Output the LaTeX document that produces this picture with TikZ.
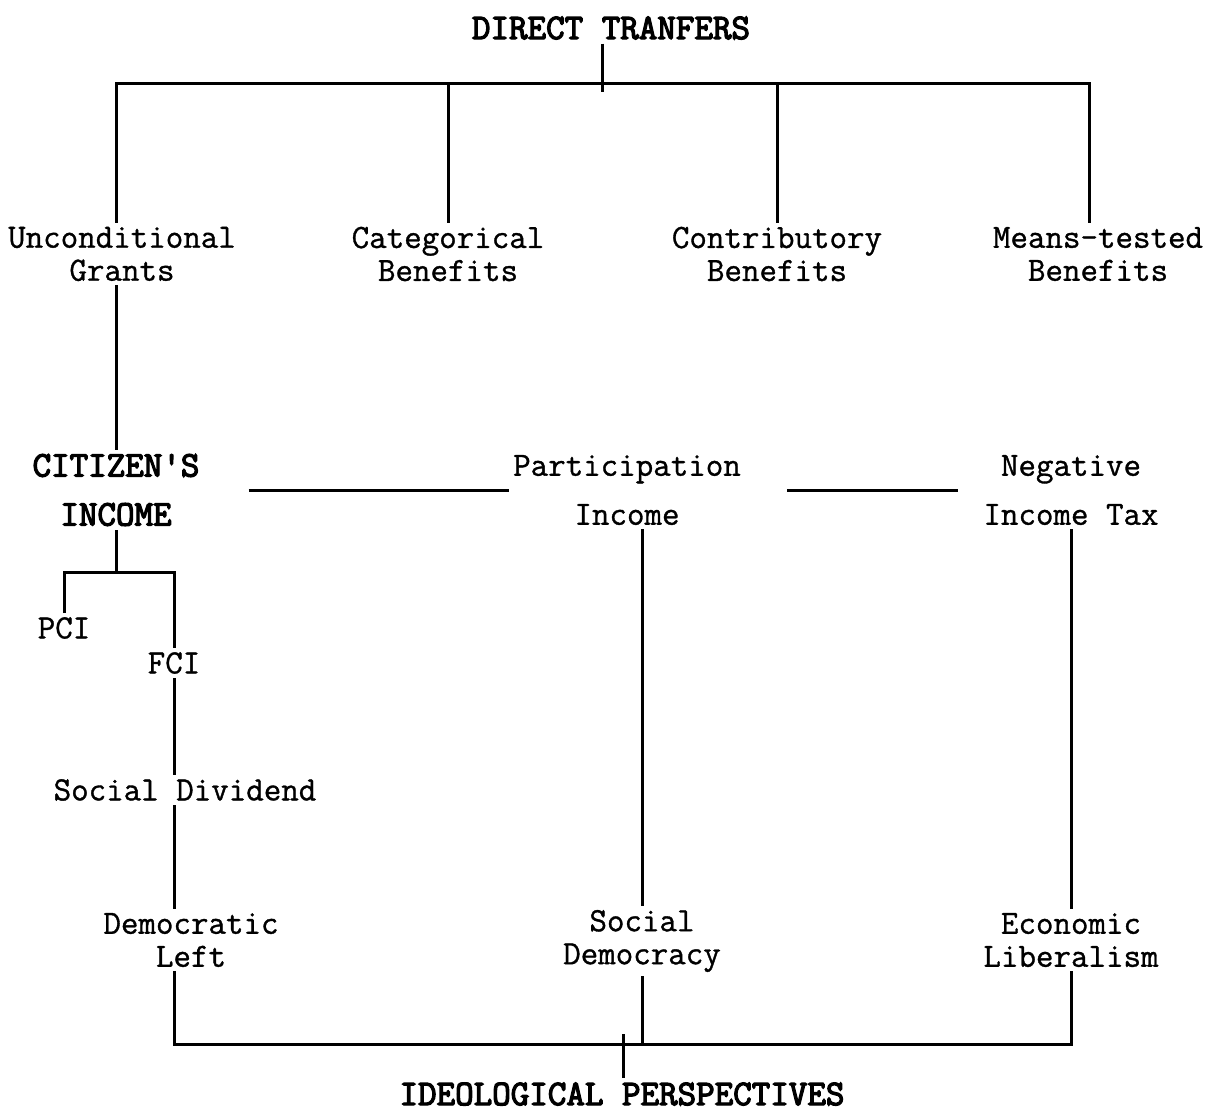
\documentclass[tikz,border=0pt]{standalone}
\usepackage{fontspec}
\newfontfamily\txtfont{Latin Modern Mono}[FakeBold=1]
\newfontfamily\headfont{Latin Modern Mono}[FakeBold=3.5]
\tikzset{
  lbl/.style={font=\txtfont\fontsize{34}{33}\selectfont, align=center, inner sep=4pt},
  lblwide/.style={lbl, font=\txtfont\fontsize{34}{49}\selectfont},
  head/.style={font=\headfont\fontsize{36}{49}\selectfont, align=center, inner sep=4pt},
  link/.style={line width=3pt}
}
\begin{document}
\begin{tikzpicture}[x=1pt, y=-1pt]
        \useasboundingbox (0,0) rectangle (1228,1112);

        % transfers
        \node[head] (dt) at (611,28) {DIRECT TRANFERS};
        \node[lbl] (ug) at (122,254) {Unconditional\\Grants};
        \node[lbl] (cb) at (448,254) {Categorical\\Benefits};
        \node[lbl] (cob) at (777,254) {Contributory\\Benefits};
        \node[lbl] (mtb) at (1098,254) {Means-tested\\Benefits};
        \coordinate (top) at (602,83);

        \draw[link] (dt.south -| top) -- ([yshift=-9pt]top); % tick
        \draw[link] ([xshift=-6pt]ug.north) |- (top) -| ([xshift=-9pt]mtb.north);
        \draw[link] (cb.north) -- (cb.north |- top);
        \draw[link] (cob.north) -- (cob.north |- top);

        % schemes
        \node[head] (ci) at (116,490) {CITIZEN'S\\INCOME};
        \node[lblwide] (pi) at (627,490) {Participation\\Income};
        \node[lblwide] (nit) at (1071,490) {Negative\\Income Tax};
        \draw[link, shorten <=45pt] (ci.east) -- (pi.west);
        \draw[link, shorten <=42pt, shorten >=21pt] (pi.east) -- (nit.west);
        \draw[link] (ug.south -| ci) -- (ci);

        % citizen's income variants
        \coordinate (brk) at (116,572);
        \node[lbl] (pci) at (64,628) {PCI};
        \node[lbl] (fci) at (174,663) {FCI};
        \node[lbl] (sd) at (185,790) {Social Dividend};
        \draw[link] (ci) -- (brk);
        \draw[link] (pci.north) |- (brk) -| (fci.north);
        \draw[link] (fci.south) -- (fci.south |- sd.north);

        % ideologies
        \node[lbl] (dl) at (191,940) {Democratic\\Left};
        \node[lbl] (sdem) at (642,941) {Social\\Democracy};
        \node[lbl] (el) at (1071,940) {Economic\\Liberalism};
        \node[head] (ip) at (622,1094) {IDEOLOGICAL PERSPECTIVES};
        \coordinate (bot) at (623,1044);

        \draw[link] (sd.south -| fci.south) -- (dl.north -| fci.south);
        \draw[link] (pi.south -| sdem.north) -- (sdem.north);
        \draw[link] (nit.south) -- (el.north);
        \draw[link] (dl.south -| fci.south) |- (bot) -| (el.south);
        \draw[link] (sdem.south) -- (sdem.south |- bot);
        \draw[link] ([yshift=10pt]bot) -- (ip.north -| bot); % tick
\end{tikzpicture}
\end{document}
